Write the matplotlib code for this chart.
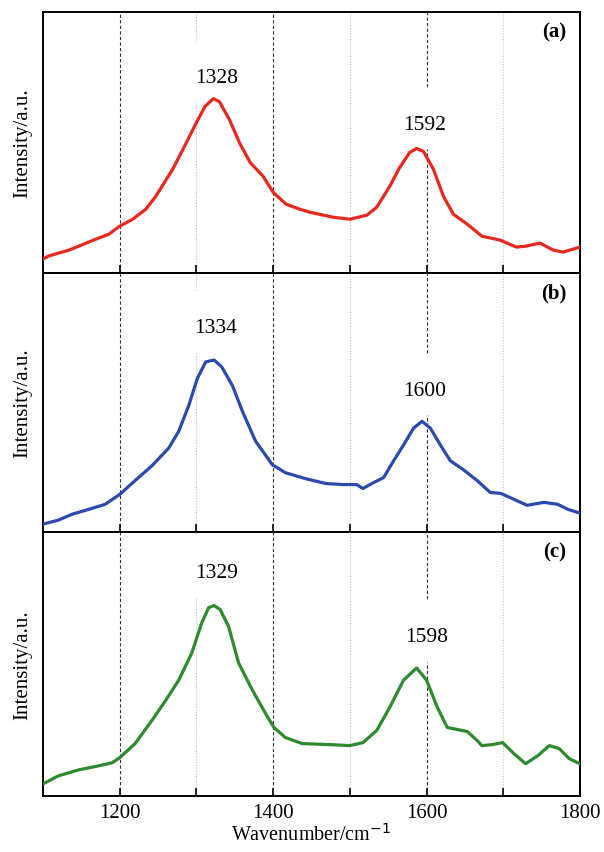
import matplotlib
matplotlib.use("Agg")
import matplotlib.pyplot as plt

plt.rcParams['font.family'] = ['Liberation Serif', 'DejaVu Serif']

# wavenumber (cm^-1) and intensity (a.u.)
wn_a = [1100, 1107, 1134, 1169, 1186, 1200, 1217, 1234, 1247, 1269, 1287, 1300,
        1311, 1322, 1330, 1343, 1356, 1370, 1387, 1400, 1417, 1435, 1448, 1478,
        1500, 1522, 1535, 1552, 1565, 1578, 1587, 1596, 1609, 1622, 1635, 1653,
        1661, 1672, 1696, 1717, 1730, 1748, 1765, 1778, 1800]
int_a = [14, 17, 23, 34, 39, 47, 54, 64, 77, 104, 131, 151,
         167, 175, 172, 154, 131, 111, 97, 81, 69, 64, 61, 56,
         54, 58, 66, 87, 106, 121, 125, 122, 104, 77, 59, 49,
         44, 37, 33, 26, 27, 30, 23, 21, 26]

wn_b = [1100, 1120, 1138, 1160, 1181, 1200, 1220, 1242, 1264, 1277, 1290, 1301,
        1312, 1323, 1333, 1347, 1360, 1377, 1399, 1416, 1442, 1469, 1491, 1509,
        1517, 1531, 1544, 1557, 1570, 1583, 1594, 1605, 1618, 1631, 1648, 1666,
        1683, 1697, 1714, 1731, 1753, 1771, 1784, 1800]
int_b = [8, 12, 18, 23, 28, 38, 52, 67, 85, 102, 128, 155,
         172, 174, 167, 148, 122, 92, 68, 60, 54, 49, 48, 48,
         44, 50, 55, 72, 88, 105, 112, 105, 88, 72, 63, 52,
         40, 39, 33, 27, 30, 28, 23, 19]

wn_c = [1100, 1120, 1147, 1173, 1190, 1200, 1220, 1242, 1260, 1277, 1294, 1307,
        1316, 1323, 1331, 1342, 1355, 1373, 1390, 1401, 1416, 1438, 1474, 1500,
        1517, 1535, 1552, 1570, 1587, 1600, 1614, 1627, 1640, 1653, 1666, 1672,
        1686, 1699, 1714, 1729, 1745, 1760, 1773, 1786, 1800]
int_c = [12, 20, 26, 30, 33, 38, 52, 75, 95, 115, 142, 172,
         187, 189, 185, 168, 132, 105, 82, 68, 58, 52, 51, 50,
         53, 65, 88, 115, 127, 115, 88, 68, 66, 64, 55, 50,
         51, 53, 42, 32, 40, 50, 47, 37, 32]

peaks_a = [1328, 1592]
peaks_b = [1334, 1600]
peaks_c = [1329, 1598]

# label anchor positions (wavenumber, height)
label_pos_a = [(1326, 196), (1598, 149)]
label_pos_b = [(1325, 207), (1598, 143)]
label_pos_c = [(1326, 222), (1600, 158)]

panels = [
    ("(a)", wn_a, int_a, "#e8281e", peaks_a, label_pos_a),
    ("(b)", wn_b, int_b, "#2b4aae", peaks_b, label_pos_b),
    ("(c)", wn_c, int_c, "#2e8a2e", peaks_c, label_pos_c),
]

fig = plt.figure(figsize=(6.04, 8.53), dpi=100)
left, right = 43 / 604, 580 / 604
edges = [13, 274, 533, 797]
ymax = 262
fs = 15

for i, (tag, wn, inten, color, peaks, lpos) in enumerate(panels):
    top = 1 - edges[i] / 853
    bot = 1 - edges[i + 1] / 853
    ax = fig.add_axes([left, bot, right - left, top - bot])
    ax.set_xlim(1100, 1800)
    ax.set_ylim(0, ymax)

    # reference lines, broken around the peak labels
    label_x = {round(p[0], -2): p[1] for p in lpos}
    for x in [1200, 1300, 1400, 1500, 1600, 1700]:
        if x in (1200, 1400, 1600):
            kw = dict(color="#333333", lw=0.8, ls=(0, (3, 2)))
        else:
            kw = dict(color="#c4c4c4", lw=0.8, ls=(0, (1, 1.5)))
        if x in label_x:
            h = label_x[x]
            ax.axvline(x, 0, (h - 25) / ymax, zorder=1, **kw)
            ax.axvline(x, (h + 38) / ymax, 1, zorder=1, **kw)
        else:
            ax.axvline(x, zorder=1, **kw)

    ax.plot(wn, inten, color=color, lw=2.3, zorder=3, solid_joinstyle="round")

    for p, (lx, ly) in zip(peaks, lpos):
        ax.text(lx, ly, str(p), ha="center", va="center", fontsize=15.5)

    ax.text(0.975, 0.925, tag, transform=ax.transAxes, ha="right", va="center",
            fontsize=fs, fontweight="bold")

    ax.set_yticks([])
    ax.set_ylabel("Intensity/a.u.", fontsize=fs, labelpad=8)
    ax.set_xticks([1200, 1300, 1400, 1500, 1600, 1700, 1800])
    ax.tick_params(axis="x", direction="in", length=6, width=1.2, top=False, pad=5)
    for s in ax.spines.values():
        s.set_linewidth(1.4)
    if i < 2:
        ax.set_xticklabels([])
    else:
        ax.set_xticklabels(["1200", "", "1400", "", "1600", "", "1800"], fontsize=fs)
        ax.set_xlabel("Wavenumber/cm$^{-1}$", fontsize=14.5, labelpad=1)

fig.savefig("out.png", dpi=100)
